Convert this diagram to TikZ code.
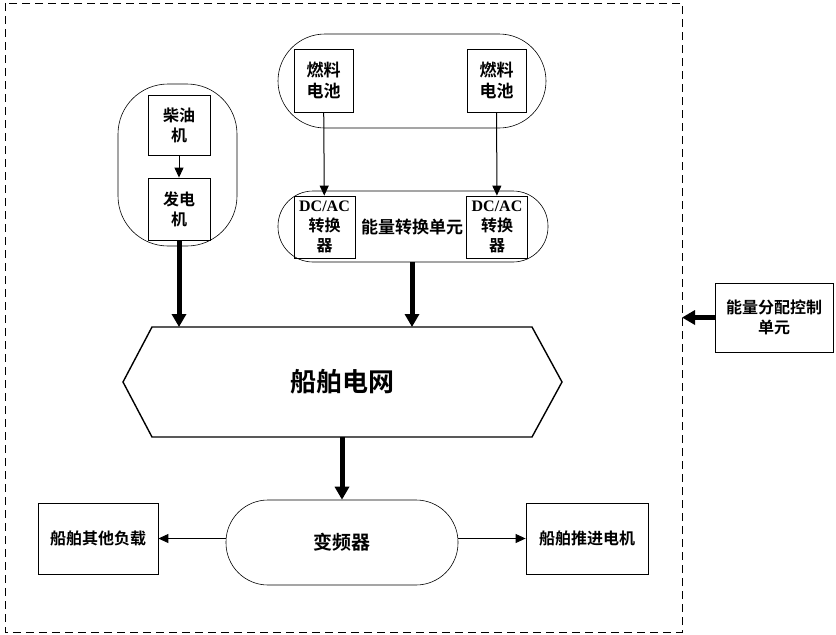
\documentclass[tikz,border=0pt]{standalone}
\usepackage{fontspec}
\setmainfont{Noto Sans CJK SC}[BoldFont={Noto Sans CJK SC Bold}]
\newfontfamily\latin{Liberation Serif}
\usetikzlibrary{arrows.meta,positioning,shapes}

\tikzset{
  box/.style={draw,line width=0.8pt,minimum width=#1,align=center,inner sep=0pt,font=\bfseries\fontsize{16}{20}\selectfont},
  box/.default=60pt,
  cont/.style={draw,line width=0.6pt,rounded corners=#1},
  flow/.style={line width=1pt,-{Triangle[length=10pt,width=9pt]}},
  power/.style={line width=5pt,-{Triangle[length=13pt,width=14pt]}}
}

\begin{document}
\begin{tikzpicture}[x=1pt,y=-1pt]
      \useasboundingbox (0,0) rectangle (836,635);
      \draw[dashed,line width=0.8pt,dash pattern=on 8pt off 5pt] (5,3) rectangle (682,632);
      \node[cont=50pt,minimum width=119pt,minimum height=162pt] (dieselgrp) at (177.5,165) {};
      \node[box=62pt,minimum height=60pt] (diesel) at (179,125) {柴油\\机};
      \node[box=62pt,minimum height=62pt] (gen) at (179,209) {发电\\机};
      \node[cont=47pt,minimum width=268pt,minimum height=94pt] (fcgrp) at (412,81) {};
      \node[box=59pt,minimum height=63pt,font=\bfseries\fontsize{17}{21}\selectfont] (fc1) at (323.5,80.5) {燃料\\电池};
      \node[box=59pt,minimum height=63pt,font=\bfseries\fontsize{17}{21}\selectfont] (fc2) at (496.5,80.5) {燃料\\电池};
      \node[cont=35pt,minimum width=270pt,minimum height=71pt] (convgrp) at (413,226.5) {};
      \node[box=61pt,minimum height=62pt] (dc1) at (324.5,227) {{\latin DC/AC}\\转换\\器};
      \node[box=61pt,minimum height=62pt] (dc2) at (497,227) {{\latin DC/AC}\\转换\\器};
      \node[font=\bfseries\fontsize{17}{20}\selectfont] (convlbl) at (412,227) {能量转换单元};
      \draw[line width=1.4pt] (123,382) -- (152,327) -- (532,327) -- (562,382) -- (532,437) -- (152,437) -- cycle;
      \node[font=\bfseries\fontsize{26}{30}\selectfont] (grid) at (342,382) {船舶电网};
      \coordinate (gridtop) at (342,327);
      \coordinate (gridbot) at (342,437);
      \node[cont=42pt,minimum width=232pt,minimum height=85pt,font=\bfseries\fontsize{19}{22}\selectfont] (freq) at (342,542.5) {变频器};
      \node[box=120pt,minimum height=71pt] (load) at (98,538.5) {船舶其他负载};
      \node[box=122pt,minimum height=71pt] (motor) at (587,538.5) {船舶推进电机};
      \node[box=118pt,minimum height=69pt] (ctrl) at (774,317.5) {能量分配控制\\单元};
      \coordinate (border) at (682,317.5);
      \draw[flow] (diesel) -- (gen);
      \draw[flow] (fc1) -- (dc1);
      \draw[flow] (fc2) -- (dc2);
      \draw[power] (gen.south) -- (gen.south |- gridtop);
      \draw[power] (convgrp.south -| convlbl) -- (convlbl |- gridtop);
      \draw[power] (gridbot) -- (freq.north);
      \draw[flow] (load.east -| freq.west) -- (load.east);
      \draw[flow] (motor.west -| freq.east) -- (motor.west);
      \draw[power] (ctrl.west) -- (border);
    \end{tikzpicture}
\end{document}
